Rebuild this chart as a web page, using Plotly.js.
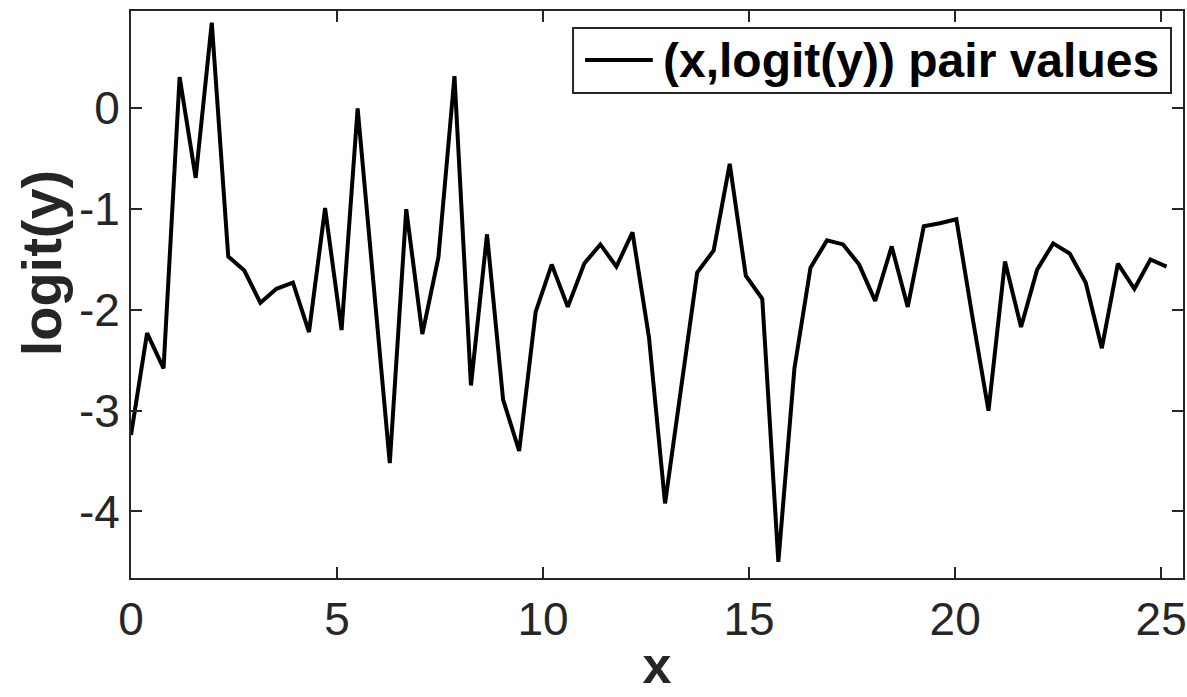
<!DOCTYPE html>
<html>
<head>
<meta charset="utf-8">
<script src="https://cdn.plot.ly/plotly-3.0.1.min.js"></script>
<style>
  html, body { margin: 0; padding: 0; background: #ffffff; }
  #chart { width: 1187px; height: 697px; }
</style>
</head>
<body>
<div id="chart"></div>
<script>
// x values (step of pi/8 from 0 to 8*pi)
var xValues = [0, 0.39, 0.79, 1.18, 1.57, 1.96, 2.36, 2.75, 3.14, 3.53, 3.93, 4.32, 4.71, 5.11, 5.50, 5.89,
  6.28, 6.68, 7.07, 7.46, 7.85, 8.25, 8.64, 9.03, 9.42, 9.82, 10.21, 10.60, 11.00, 11.39, 11.78, 12.17,
  12.57, 12.96, 13.35, 13.74, 14.14, 14.53, 14.92, 15.32, 15.71, 16.10, 16.49, 16.89, 17.28, 17.67, 18.06,
  18.46, 18.85, 19.24, 19.63, 20.03, 20.42, 20.81, 21.21, 21.60, 21.99, 22.38, 22.78, 23.17, 23.56, 23.95,
  24.35, 24.74, 25.13];

// logit(y) values
var logitValues = [-3.24, -2.23, -2.58, 0.31, -0.69, 0.85, -1.47, -1.61, -1.93, -1.79, -1.73, -2.22, -0.99,
  -2.20, 0.0, -1.8, -3.52,
  -1.0, -2.24, -1.48, 0.32, -2.75, -1.25, -2.89, -3.4, -2.02, -1.55, -1.97, -1.54, -1.35, -1.57, -1.23,
  -2.27, -3.92, -2.8, -1.63, -1.41, -0.55, -1.66, -1.89, -4.5, -2.58, -1.58, -1.31, -1.35, -1.55, -1.91,
  -1.37, -1.97,
  -1.17, -1.14, -1.10, -2.07, -3.0, -1.52, -2.17, -1.6, -1.34, -1.44, -1.73, -2.38, -1.54, -1.79, -1.5, -1.57];

var seriesName = '(x,logit(y)) pair values';
var xLabel = 'x';
var yLabel = 'logit(y)';

var xTickVals = [0, 5, 10, 15, 20, 25];
var xTickText = ['0', '5', '10', '15', '20', '25'];
var yTickVals = [-4, -3, -2, -1, 0];
var yTickText = ['-4', '-3', '-2', '-1', '0'];

var axisColor = '#262626';
var fontFamily = '"Liberation Sans", Arial, Helvetica, sans-serif';

var trace = {
  x: xValues,
  y: logitValues,
  type: 'scatter',
  mode: 'lines',
  name: seriesName,
  line: { color: '#000000', width: 4 },
  showlegend: false
};

var commonAxis = {
  showline: true,
  linecolor: axisColor,
  linewidth: 2,
  mirror: 'ticks',
  ticks: 'inside',
  ticklen: 11,
  tickwidth: 2,
  tickcolor: axisColor,
  showgrid: false,
  zeroline: false,
  tickfont: { family: fontFamily, size: 46, color: '#262626' }
};

// legend box (drawn in paper space, MATLAB-style legend with a long line sample)
var legendBox = { x0: 0.4202, x1: 0.9886, y0: 0.8554, y1: 0.970 };
var legendLine = { x0: 0.4316, x1: 0.496, y: 0.9135 };

var layout = {
  width: 1187,
  height: 697,
  margin: { l: 131, r: 4, t: 11, b: 119 },
  paper_bgcolor: '#ffffff',
  plot_bgcolor: '#ffffff',
  font: { family: fontFamily, color: '#262626' },
  xaxis: Object.assign({}, commonAxis, {
    range: [0, 25.53],
    tickmode: 'array',
    tickvals: xTickVals,
    ticktext: xTickText,
    title: { text: xLabel, font: { family: fontFamily, size: 52, weight: 'bold', color: '#262626' }, standoff: 2 }
  }),
  yaxis: Object.assign({}, commonAxis, {
    range: [-4.66, 0.966],
    tickmode: 'array',
    tickvals: yTickVals,
    ticktext: yTickText
  }),
  showlegend: false,
  shapes: [
    {
      type: 'rect', xref: 'paper', yref: 'paper',
      x0: legendBox.x0, x1: legendBox.x1, y0: legendBox.y0, y1: legendBox.y1,
      line: { color: axisColor, width: 2 }, fillcolor: '#ffffff', layer: 'above'
    },
    {
      type: 'line', xref: 'paper', yref: 'paper',
      x0: legendLine.x0, x1: legendLine.x1, y0: legendLine.y, y1: legendLine.y,
      line: { color: '#000000', width: 4 }, layer: 'above'
    }
  ],
  annotations: [
    {
      xref: 'paper', yref: 'paper',
      x: 0.5035, y: legendLine.y,
      xanchor: 'left', yanchor: 'middle',
      text: seriesName,
      showarrow: false,
      font: { family: fontFamily, size: 48, weight: 'bold', color: '#000000' }
    },
    {
      xref: 'paper', yref: 'paper',
      x: -0.0855, y: 0.555,
      xanchor: 'center', yanchor: 'middle',
      textangle: -90,
      text: yLabel,
      showarrow: false,
      font: { family: fontFamily, size: 56, weight: 'bold', color: '#262626' }
    }
  ]
};

Plotly.newPlot('chart', [trace], layout, { staticPlot: true, displayModeBar: false });
</script>
</body>
</html>
